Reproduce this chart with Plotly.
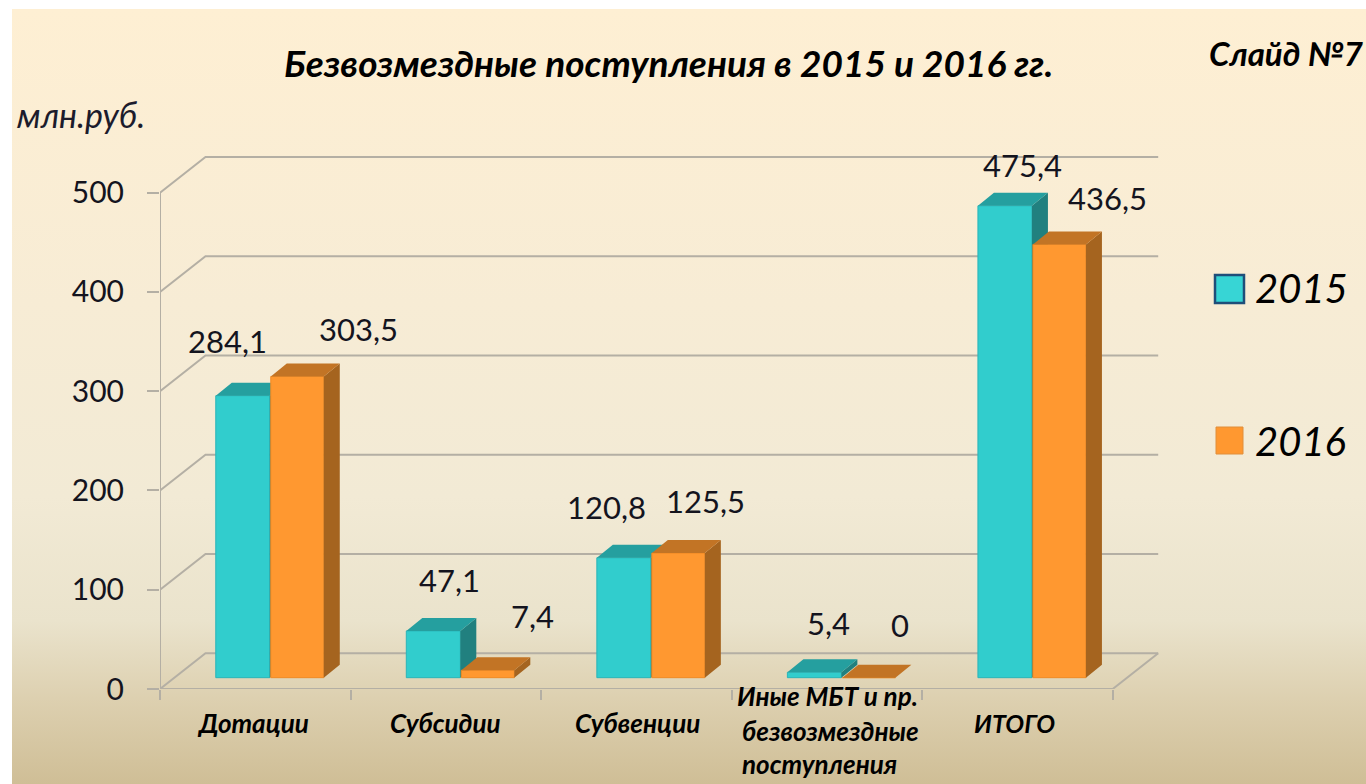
import base64
import plotly.graph_objects as go

categories = ["Дотации", "Субсидии", "Субвенции", "Иные МБТ и пр.\nбезвозмездные\nпоступления", "ИТОГО"]
series_names = ["2015", "2016"]
values_2015 = [284.1, 47.1, 120.8, 5.4, 475.4]
values_2016 = [303.5, 7.4, 125.5, 0, 436.5]
y_ticks = [0, 100, 200, 300, 400, 500]

W, H = 1366, 784
L, R, T, B = 160, 1165, 154, 689
PX_X = 190.54
PX_Y = 0.9926
FONT = "Lato"
INK = "#14141e"


def sx(px):
    return (px - L) / (R - L)


def sy(px):
    return (B - px) / (B - T)


XMIN = -0.5
XMAX = XMIN + (R - L) / PX_X
YMAX = (B - T) / PX_Y
WALL_DX = 45.5 / PX_X
WALL_DY = 35.8 / PX_Y
FLOOR = 11.4
BAR_DX = 16 / PX_X
BAR_DY = 13 / PX_Y
STYLES = [
    dict(front="#31CDCD", edge="#2AB4B8", top="#259F9F", side="#21807F", offset=-39.5 / PX_X, width=54 / PX_X),
    dict(front="#FF9830", edge="#F08A24", top="#C27425", side="#A5641F", offset=15.5 / PX_X, width=53 / PX_X),
]
VALUE_SHIFTS = [
    [(-15, 54), (16, 50), (-17, 50), (14, 48), (18, 40)],
    [(61, 46), (45, 53), (27, 51), (31, 52), (48, 45)],
]
GRID = "#B4AFA4"

fig = go.Figure()

# Walls, floor and axis lines, on the base axes
xs, ys = [], []
for v in y_ticks:
    xs += [XMIN, XMIN + WALL_DX, XMIN + 5 + WALL_DX, None]
    ys += [v, v + WALL_DY, v + WALL_DY, None]
xs += [XMIN, XMIN, None, XMIN, XMIN + 5, XMIN + 5 + WALL_DX]
ys += [0, 500, None, 0, 0, WALL_DY]
fig.add_trace(go.Scatter(x=xs, y=ys, mode="lines", line=dict(color=GRID, width=2), cliponaxis=False,
                         hoverinfo="skip", showlegend=False, xaxis="x", yaxis="y"))


def faces(vals, st):
    sx_, sy_, tx, ty = [], [], [], []
    for i, v in enumerate(vals):
        x0 = i + st["offset"]
        x1 = x0 + st["width"]
        t = FLOOR + v
        sx_ += [x1, x1 + BAR_DX, x1 + BAR_DX, x1, x1, None]
        sy_ += [FLOOR, FLOOR + BAR_DY, t + BAR_DY, t, FLOOR, None]
        tx += [x0, x1, x1 + BAR_DX, x0 + BAR_DX, x0, None]
        ty += [t, t, t + BAR_DY, t + BAR_DY, t, None]
    return sx_, sy_, tx, ty


for k, (name, vals, st) in enumerate(zip(series_names, [values_2015, values_2016], STYLES)):
    xa, ya = f"x{k + 2}", f"y{k + 2}"
    fig.add_trace(go.Bar(x=list(range(5)), y=vals, base=FLOOR, name=name, offset=st["offset"], width=st["width"],
                         marker=dict(color=st["front"], line=dict(color=st["edge"], width=1)),
                         hoverinfo="skip", showlegend=False, xaxis=xa, yaxis=ya))
    a, b, c, d = faces(vals, st)
    fig.add_trace(go.Scatter(x=a, y=b, mode="lines", fill="toself", fillcolor=st["side"], line=dict(width=0),
                             hoverinfo="skip", showlegend=False, xaxis=xa, yaxis=ya))
    fig.add_trace(go.Scatter(x=c, y=d, mode="lines", fill="toself", fillcolor=st["top"], line=dict(width=0),
                             hoverinfo="skip", showlegend=False, xaxis=xa, yaxis=ya))

ann = []
for vals, st, shifts in zip([values_2015, values_2016], STYLES, VALUE_SHIFTS):
    for i, (v, (dx, dy)) in enumerate(zip(vals, shifts)):
        ann.append(dict(x=i + st["offset"] + st["width"] / 2, y=FLOOR + v, xref="x", yref="y",
                        text=str(v).replace(".", ","), showarrow=False, xshift=dx, yshift=dy + 1,
                        font=dict(family=FONT, size=31, color=INK)))


def page_text(text, px, py, size, bold=False, italic=True, anchor="left", color="#000000"):
    if bold:
        text = f"<b>{text}</b>"
    if italic:
        text = f"<i>{text}</i>"
    return dict(x=sx(px), y=sy(py), xref="paper", yref="paper", text=text, showarrow=False,
                xanchor=anchor, yanchor="middle", font=dict(family=FONT, size=size, color=color))


ann.append(page_text("Безвозмездные поступления в 2015 и 2016 гг.", 668, 63, 37, True, anchor="center"))
ann.append(page_text("Слайд №7", 1207, 53, 33, True))
ann.append(page_text("млн.руб.", 15, 114, 34, color="#1c1c2c"))
ann.append(page_text(categories[0], 253, 723, 26, True, anchor="center"))
ann.append(page_text(categories[1], 445, 723, 26, True, anchor="center"))
ann.append(page_text(categories[2], 637, 723, 26, True, anchor="center"))
for line, px, py in zip(categories[3].split("\n"), [735, 740, 740], [696, 731, 764]):
    ann.append(page_text(line, px, py, 26, True))
ann.append(page_text(categories[4], 1014, 723, 25, True, anchor="center"))
ann.append(page_text(series_names[0], 1253, 288, 40))
ann.append(page_text(series_names[1], 1253, 441, 40))

shapes = [
    dict(type="rect", xref="paper", yref="paper", x0=sx(1215), x1=sx(1244), y0=sy(275), y1=sy(303),
         fillcolor="#37D5D5", line=dict(color="#1F4E79", width=2.5)),
    dict(type="rect", xref="paper", yref="paper", x0=sx(1216), x1=sx(1243), y0=sy(427), y1=sy(454),
         fillcolor="#FF9830", line=dict(color="#E08E3A", width=1)),
]

svg = f"""<svg xmlns='http://www.w3.org/2000/svg' width='{W - 12}' height='{H - 9}' preserveAspectRatio='none'>
<defs><linearGradient id='g' x1='0' y1='0' x2='0' y2='1'>
<stop offset='0' stop-color='#FEEFD3'/><stop offset='0.38' stop-color='#F7ECD5'/>
<stop offset='0.63' stop-color='#F2EAD5'/><stop offset='0.79' stop-color='#EAE3CC'/>
<stop offset='0.89' stop-color='#DDD0B0'/><stop offset='1' stop-color='#CFBE96'/>
</linearGradient></defs><rect width='100%' height='100%' fill='url(#g)'/></svg>"""
bg = "data:image/svg+xml;base64," + base64.b64encode(svg.encode()).decode()
images = [dict(source=bg, xref="paper", yref="paper", x=sx(12), y=sy(9), sizex=(W - 12) / (R - L),
               sizey=(H - 9) / (B - T), xanchor="left", yanchor="top", sizing="stretch", layer="below")]

axis_common = dict(range=[XMIN, XMAX], showgrid=False, zeroline=False)
yaxis_common = dict(range=[0, YMAX], showgrid=False, zeroline=False)
fig.update_layout(
    width=W, height=H, margin=dict(l=L, r=W - R, t=T, b=H - B),
    paper_bgcolor="#FFFFFF", plot_bgcolor="rgba(0,0,0,0)",
    showlegend=False, annotations=ann, shapes=shapes, images=images,
    font=dict(family=FONT, color=INK),
    xaxis=dict(**axis_common, tickvals=[i - 0.5 for i in range(6)], showticklabels=False,
               ticks="outside", ticklen=10, tickwidth=2, tickcolor=GRID),
    yaxis=dict(**yaxis_common, tickvals=y_ticks, ticks="outside", ticklen=12, tickwidth=2, tickcolor=GRID,
               tickfont=dict(family=FONT, size=30, color=INK), ticklabelstandoff=17),
    xaxis2=dict(**axis_common, overlaying="x", visible=False),
    yaxis2=dict(**yaxis_common, overlaying="y", visible=False),
    xaxis3=dict(**axis_common, overlaying="x", visible=False),
    yaxis3=dict(**yaxis_common, overlaying="y", visible=False),
)

fig.write_html("out.html", config=dict(displayModeBar=False),
               post_script="document.body.style.margin='0';document.body.style.overflow='hidden';")
